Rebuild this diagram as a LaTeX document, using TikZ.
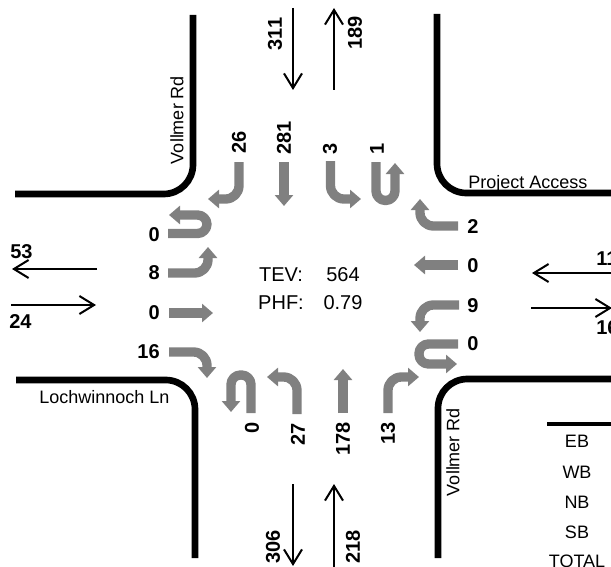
\documentclass[tikz,border=0pt]{standalone}
\usepackage{fontspec}
\setmainfont{Liberation Sans}
\usetikzlibrary{arrows.meta}
\definecolor{mvgray}{HTML}{808080}
\tikzset{
  mv/.style={draw=mvgray,line width=7pt,line join=round,rounded corners=10pt,
    -{Triangle[length=8.25pt,width=13.5pt,fill=mvgray]}},
  mvu/.style={mv,rounded corners=7.1pt},
  road/.style={draw=black,line width=5pt,rounded corners=22pt},
  vol/.style={draw=black,line width=1.5pt,-{Straight Barb[length=11pt,width=13.5pt,line width=1.5pt]}},
  num/.style={font=\fontsize{15}{17}\selectfont\bfseries,inner sep=0pt},
  numr/.style={num,rotate=90},
  lab/.style={font=\fontsize{13.5}{16}\selectfont,inner sep=0pt,text=black},
  ctr/.style={font=\fontsize{15}{17}\selectfont,inner sep=0pt,text=black,anchor=base},
}
\begin{document}
\begin{tikzpicture}[x=0.75pt,y=-0.75pt]
\useasboundingbox (0,0) rectangle (611,567);
\clip (0,0) rectangle (611,567);
% roads
\draw[road] (193,15) -- (193,194) -- (15,194);
\draw[road] (437,14) -- (437,193) -- (620,193);
\draw[road] (16,380) -- (195,380) -- (195,558);
\draw[road] (438,558) -- (438,379) -- (620,379);
\draw[draw=black,line width=2.5pt] (547,424) -- (620,424);
% turning movements: southbound
\draw[mv] (239,162) -- (239,199) -- (208,199);
\draw[mv] (284,162) -- (284,206);
\draw[mv] (330.5,161) -- (330.5,199) -- (361,199);
\draw[mvu] (376,162) -- (376,200.5) -- (395,200.5) -- (395,163);
% westbound
\draw[mv] (458,226) -- (420,226) -- (420,199);
\draw[mv] (458,265) -- (414,265);
\draw[mv] (459,305) -- (420,305) -- (420,332);
\draw[mvu] (458,344) -- (419,344) -- (419,364) -- (457,364);
% northbound
\draw[mv] (388,413) -- (388,377) -- (419,377);
\draw[mv] (343,413) -- (343,369);
\draw[mv] (297,414) -- (297,377) -- (267,377);
\draw[mvu] (251,413) -- (251,375) -- (231,375) -- (231,412);
% eastbound
\draw[mv] (169,352) -- (207,352) -- (207,378);
\draw[mv] (169,313) -- (213,313);
\draw[mv] (168,273) -- (208,273) -- (208,247);
\draw[mvu] (168,233.5) -- (207,233.5) -- (207,215) -- (169,215);
% approach volumes
\draw[vol] (97,269) -- (12,269);
\draw[vol] (11,305) -- (96,305);
\draw[vol] (620,273) -- (532,273);
\draw[vol] (531,308) -- (612,308);
\draw[vol] (293,8) -- (293,90);
\draw[vol] (334,90) -- (334,8);
\draw[vol] (293,484) -- (293,566);
\draw[vol] (334,575) -- (334,484);
% movement counts
\node[numr] (s1) at (239,142) {26};
\node[numr] (s2) at (284,138) {281};
\node[numr] (s3) at (330,149) {3};
\node[numr] (s4) at (377,149) {1};
\node[num] (w1) at (473,227) {2};
\node[num] (w2) at (473,266) {0};
\node[num] (w3) at (473,305.5) {9};
\node[num] (w4) at (473,344) {0};
\node[num,anchor=east] (e1) at (160,235) {0};
\node[num,anchor=east] (e2) at (160,273) {8};
\node[num,anchor=east] (e3) at (160,313) {0};
\node[num,anchor=east] (e4) at (160,352) {16};
\node[numr] (n1) at (252,428) {0};
\node[numr] (n2) at (298,434) {27};
\node[numr] (n3) at (343,439) {178};
\node[numr] (n4) at (388,433) {13};
% approach counts
\node[numr] (a1) at (275,34) {311};
\node[numr] (a2) at (355,33) {189};
\node[numr] (a3) at (273,547) {306};
\node[numr] (a4) at (353,547) {218};
\node[num,anchor=base west] (a5) at (10,258) {53};
\node[num,anchor=base west] (a6) at (9,328) {24};
\node[num,anchor=base west] (a7) at (596,265) {11};
\node[num,anchor=base west] (a8) at (596,334) {16};
% street names
\node[lab,rotate=90] (r1) at (177,120) {Vollmer Rd};
\node[lab,rotate=90] (r2) at (453,452) {Vollmer Rd};
\node[lab,anchor=base west] (r3) at (468,188) {Project Access};
\node[lab,anchor=base west] (r4) at (39,403) {Lochwinnoch Ln};
% centre
\node[ctr] (t1) at (281,281) {TEV:};
\node[ctr] (t2) at (343,281) {564};
\node[ctr] (t3) at (281,309) {PHF:};
\node[ctr] (t4) at (343,309) {0.79};
% table
\node[lab,anchor=base] (b1) at (577,447) {EB};
\node[lab,anchor=base] (b2) at (577,478) {WB};
\node[lab,anchor=base] (b3) at (577,508) {NB};
\node[lab,anchor=base] (b4) at (577,538) {SB};
\node[lab,anchor=base] (b5) at (577,567) {TOTAL};
\end{tikzpicture}
\end{document}
